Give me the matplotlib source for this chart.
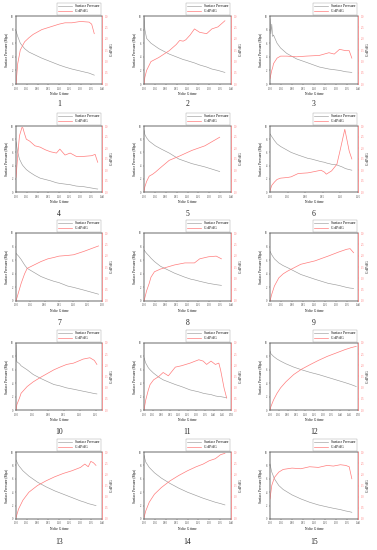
import matplotlib
matplotlib.use('Agg')
import matplotlib.pyplot as plt
from matplotlib.lines import Line2D

plt.rcParams['font.family'] = ['Liberation Serif', 'DejaVu Serif']

# ---------------- data ----------------
t1 = [0, 0.008, 0.02, 0.04, 0.06, 0.08, 0.12, 0.16, 0.20, 0.228, 0.26, 0.30, 0.34, 0.352, 0.364]
p1 = [7.8, 7.0, 6.0, 5.2, 4.7, 4.4, 3.8, 3.3, 2.8, 2.5, 2.2, 1.9, 1.6, 1.45, 1.3]
g1 = [0, 0.9, 1.5, 1.86, 2.04, 2.19, 2.4, 2.52, 2.64, 2.7, 2.7, 2.76, 2.73, 2.64, 2.22]

t2 = [0, 0.004, 0.012, 0.032, 0.068, 0.116, 0.148, 0.164, 0.18, 0.192, 0.212, 0.232, 0.256, 0.288, 0.312, 0.34, 0.372]
p2 = [9.8, 8.0, 6.7, 6.0, 5.2, 4.4, 4.0, 3.8, 3.6, 3.5, 3.3, 3.1, 2.8, 2.5, 2.2, 2.0, 1.7]
g2 = [0, 0.3, 0.6, 0.99, 1.17, 1.47, 1.74, 1.92, 1.89, 1.95, 2.16, 2.43, 2.28, 2.22, 2.43, 2.52, 2.79]

t3 = [0, 0.004, 0.008, 0.012, 0.016, 0.032, 0.048, 0.076, 0.12, 0.164, 0.224, 0.268, 0.292, 0.316, 0.344, 0.36, 0.372]
p3 = [9.6, 7.4, 8.8, 7.0, 7.2, 6.0, 5.3, 4.5, 3.7, 3.2, 2.5, 2.2, 2.1, 2.0, 1.8, 1.75, 1.7]
g3 = [0.24, 0.42, 0.6, 0.72, 0.9, 1.14, 1.23, 1.23, 1.2, 1.23, 1.26, 1.38, 1.32, 1.53, 1.47, 1.47, 1.14]

t4 = [0, 0.008, 0.016, 0.028, 0.032, 0.04, 0.048, 0.064, 0.088, 0.112, 0.136, 0.16, 0.188, 0.204, 0.228, 0.252, 0.28, 0.316, 0.352, 0.368, 0.38]
p4 = [7.6, 6.0, 5.0, 4.2, 4.0, 3.7, 3.4, 3.0, 2.5, 2.1, 1.9, 1.7, 1.4, 1.3, 1.2, 1.1, 0.9, 0.8, 0.6, 0.5, 0.45]
g4 = [0.66, 1.65, 2.55, 2.94, 2.91, 2.64, 2.4, 2.31, 2.1, 2.04, 1.92, 1.83, 1.77, 1.95, 1.68, 1.77, 1.62, 1.62, 1.65, 1.71, 1.35]

t5 = [0, 0.004, 0.012, 0.024, 0.04, 0.052, 0.08, 0.116, 0.16, 0.22, 0.28, 0.348]
p5 = [9.4, 8.7, 8.2, 7.7, 7.3, 7.0, 6.5, 5.9, 5.0, 4.3, 3.8, 3.1]
g5 = [0.03, 0.24, 0.48, 0.72, 0.81, 0.9, 1.14, 1.44, 1.62, 1.89, 2.1, 2.49]

t6 = [0, 0.005, 0.0125, 0.02, 0.03, 0.05, 0.06, 0.08, 0.1075, 0.1175, 0.145, 0.155, 0.16, 0.175, 0.19, 0.2, 0.205, 0.2125, 0.2175, 0.225, 0.2325]
p6 = [8.8, 8.4, 7.8, 7.3, 6.9, 6.3, 6.0, 5.6, 5.1, 5.0, 4.6, 4.5, 4.4, 4.2, 4.1, 3.9, 3.8, 3.6, 3.5, 3.4, 3.3]
g6 = [0.06, 0.3, 0.45, 0.57, 0.63, 0.66, 0.69, 0.84, 0.87, 0.9, 0.99, 0.9, 0.81, 0.96, 1.26, 1.95, 2.31, 2.85, 2.46, 1.86, 1.5]

t7 = [0, 0.009, 0.018, 0.03, 0.039, 0.063, 0.087, 0.111, 0.132, 0.15, 0.18, 0.201, 0.237, 0.288]
p7 = [7.0, 6.6, 6.1, 5.3, 4.8, 4.2, 3.6, 3.2, 2.9, 2.7, 2.2, 2.0, 1.6, 1.0]
g7 = [0, 0.39, 0.78, 1.2, 1.44, 1.59, 1.74, 1.86, 1.92, 1.98, 2.01, 2.04, 2.19, 2.43]

t8 = [0, 0.012, 0.024, 0.032, 0.048, 0.076, 0.108, 0.14, 0.188, 0.216, 0.232, 0.256, 0.296, 0.332, 0.356]
p8 = [7.5, 7.0, 6.6, 6.3, 5.8, 5.1, 4.6, 4.1, 3.5, 3.2, 3.1, 2.9, 2.6, 2.4, 2.3]
g8 = [0, 0.45, 0.78, 1.05, 1.29, 1.41, 1.5, 1.59, 1.68, 1.68, 1.68, 1.86, 1.95, 1.98, 1.86]

t9 = [0, 0.008, 0.02, 0.04, 0.06, 0.08, 0.14, 0.204, 0.264, 0.312, 0.348, 0.364, 0.38]
p9 = [7.3, 6.8, 6.2, 5.6, 5.2, 4.9, 3.9, 3.2, 2.6, 2.3, 2.0, 1.9, 1.85]
g9 = [0, 0.3, 0.66, 1.02, 1.2, 1.32, 1.62, 1.77, 1.98, 2.16, 2.28, 2.31, 2.13]

t10 = [0, 0.0014, 0.0027, 0.011, 0.016, 0.035, 0.054, 0.078, 0.119, 0.138, 0.159, 0.181, 0.211, 0.232, 0.246, 0.254]
p10 = [9.7, 7.5, 7.2, 6.9, 6.6, 6.0, 5.3, 4.7, 3.8, 3.6, 3.3, 3.1, 2.8, 2.6, 2.45, 2.4]
g10 = [0, 0.12, 0.24, 0.54, 0.75, 1.05, 1.26, 1.47, 1.8, 1.92, 2.04, 2.1, 2.28, 2.34, 2.22, 2.04]

t11 = [0, 0.01, 0.025, 0.035, 0.055, 0.085, 0.11, 0.14, 0.18, 0.215, 0.265, 0.315, 0.34, 0.36, 0.385, 0.41, 0.43, 0.44, 0.46, 0.475]
p11 = [7.8, 7.0, 6.3, 6.0, 5.5, 4.9, 4.5, 4.2, 3.8, 3.5, 3.0, 2.7, 2.5, 2.4, 2.3, 2.1, 2.0, 2.0, 1.9, 1.8]
g11 = [0, 0.45, 0.9, 1.14, 1.35, 1.5, 1.68, 1.53, 1.92, 1.98, 2.1, 2.25, 2.19, 2.04, 2.19, 2.04, 2.1, 1.8, 0.99, 0.54]

t12 = [0, 0.005, 0.02, 0.04, 0.06, 0.09, 0.135, 0.18, 0.23, 0.275, 0.325, 0.375, 0.425, 0.46, 0.49]
p12 = [8.8, 8.4, 8.0, 7.6, 7.3, 6.9, 6.4, 6.0, 5.6, 5.3, 4.9, 4.5, 4.1, 3.8, 3.5]
g12 = [0, 0.15, 0.45, 0.75, 0.99, 1.26, 1.59, 1.83, 2.04, 2.22, 2.4, 2.55, 2.7, 2.79, 2.85]

t13 = [0, 0.012, 0.032, 0.06, 0.1, 0.14, 0.18, 0.22, 0.26, 0.3, 0.32, 0.336, 0.348, 0.36, 0.372]
p13 = [8.8, 8.0, 7.2, 6.4, 5.5, 4.8, 4.2, 3.7, 3.2, 2.7, 2.5, 2.3, 2.2, 2.1, 2.0]
g13 = [0.06, 0.45, 0.84, 1.2, 1.5, 1.71, 1.89, 2.04, 2.16, 2.31, 2.46, 2.34, 2.58, 2.52, 2.4]

t14 = [0, 0.008, 0.024, 0.048, 0.08, 0.12, 0.16, 0.2, 0.24, 0.272, 0.3, 0.328, 0.352, 0.372]
p14 = [9.5, 8.5, 7.7, 6.9, 6.1, 5.3, 4.6, 4.0, 3.5, 3.1, 2.8, 2.5, 2.3, 2.1]
g14 = [0.06, 0.36, 0.75, 1.11, 1.41, 1.71, 1.95, 2.16, 2.34, 2.46, 2.61, 2.7, 2.88, 2.94]

t15 = [0, 0.008, 0.02, 0.04, 0.06, 0.1, 0.14, 0.18, 0.22, 0.26, 0.288, 0.32, 0.344, 0.36, 0.372]
p15 = [8.2, 7.0, 6.0, 5.0, 4.4, 3.6, 3.0, 2.5, 2.1, 1.8, 1.6, 1.4, 1.2, 1.1, 1.0]
g15 = [0.9, 1.5, 1.86, 2.1, 2.22, 2.28, 2.25, 2.34, 2.31, 2.4, 2.37, 2.43, 2.4, 2.34, 1.8]

times = [t1, t2, t3, t4, t5, t6, t7, t8, t9, t10, t11, t12, t13, t14, t15]
pressures = [p1, p2, p3, p4, p5, p6, p7, p8, p9, p10, p11, p12, p13, p14, p15]
gdpdg = [g1, g2, g3, g4, g5, g6, g7, g8, g9, g10, g11, g12, g13, g14, g15]
xmax = [0.40, 0.40, 0.40, 0.40, 0.40, 0.25, 0.30, 0.40, 0.40, 0.27, 0.50, 0.50, 0.40, 0.40, 0.40]
panel_labels = [str(i) for i in range(1, 16)]

# ---------------- layout ----------------
W, H = 377, 550
fig = plt.figure(figsize=(W / 100, H / 100), dpi=100)
fig.patch.set_facecolor('white')

cols = [(16, 102), (144, 231), (270, 358)]
rows = [(16, 84), (126, 192), (233, 301), (343, 410), (452, 519)]
label_y = [104, 214, 323, 432, 542]

GRAY = '#9c9c9c'
RED = '#ff7c7c'
TFS = 2.0
LFS = 2.6

for i in range(15):
    r, c = divmod(i, 3)
    x0, x1 = cols[c]
    y0, y1 = rows[r]
    ax = fig.add_axes([x0 / W, 1 - y1 / H, (x1 - x0) / W, (y1 - y0) / H])
    ax.plot(times[i], pressures[i], color=GRAY, lw=0.45)
    ax.set_xlim(0, xmax[i])
    ax.set_ylim(0, 10)
    step = 0.05
    n = int(round(xmax[i] / step))
    ax.set_xticks([k * step for k in range(n + 1)])
    ax.set_xticklabels([f"{k * step:.2f}" for k in range(n + 1)])
    ax.set_yticks([0, 2, 4, 6, 8, 10])
    ax.tick_params(labelsize=TFS, length=1, width=0.3, pad=0.8, colors='#444444')
    ax.set_xlabel('Nolte G time', fontsize=LFS, labelpad=1)
    ax.set_ylabel('Surface Pressure (Mpa)', fontsize=LFS, labelpad=1)
    for s in ax.spines.values():
        s.set_linewidth(0.35)
        s.set_color('#555555')

    ax2 = ax.twinx()
    ax2.plot(times[i], gdpdg[i], color=RED, lw=0.5)
    ax2.set_ylim(0, 3)
    ax2.set_yticks([0, 0.5, 1.0, 1.5, 2.0, 2.5, 3.0])
    ax2.tick_params(axis='y', labelsize=TFS, length=1, width=0.3, pad=0.8, colors=RED)
    ax2.set_ylabel('G dP/dG', fontsize=LFS, labelpad=1.5)
    for name, s in ax2.spines.items():
        s.set_linewidth(0.35)
        s.set_color('#555555')
    ax2.spines['right'].set_color(RED)
    ax2.spines['right'].set_linewidth(0.5)

    handles = [Line2D([], [], color=GRAY, lw=0.45), Line2D([], [], color=RED, lw=0.5)]
    leg = ax.legend(handles, ['Surface Pressure', 'G dP/dG'], loc='lower right',
                    bbox_to_anchor=(1.0, 1.01), fontsize=2.6, frameon=True,
                    handlelength=4, borderpad=0.4, labelspacing=0.2,
                    handletextpad=0.8, borderaxespad=0.2, fancybox=False)
    leg.get_frame().set_linewidth(0.3)
    leg.get_frame().set_edgecolor('#888888')

    fig.text(((x0 + x1) / 2) / W, 1 - label_y[r] / H, panel_labels[i],
             ha='center', va='center', fontsize=5.5, color='#222222')

fig.savefig('out.png', dpi=100, facecolor='white')
